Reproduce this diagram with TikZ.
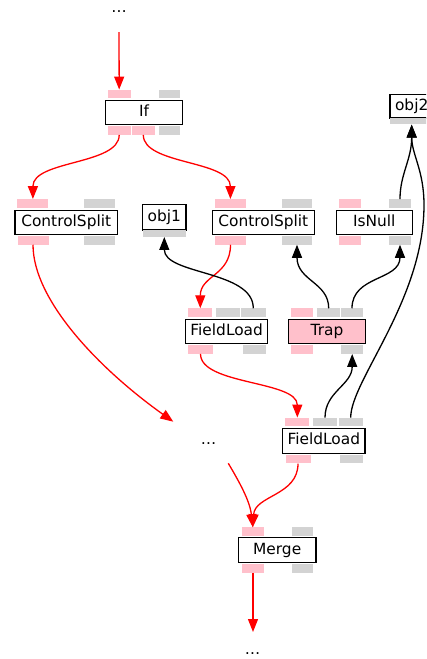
\documentclass[tikz,border=0pt]{standalone}
\usepackage{fontspec}
\setmainfont{DejaVu Sans}
\usetikzlibrary{arrows.meta}
\definecolor{portpink}{HTML}{FFC0CB}
\definecolor{portgray}{HTML}{D3D3D3}
\tikzset{
  opbox/.style={draw=black, line width=1.2pt, fill=white, minimum height=24pt, inner sep=0pt,
    font=\fontsize{15.4pt}{18pt}\selectfont, text height=11.6pt, text depth=3.7pt},
  pport/.style={fill=portpink, draw=none, minimum height=8.5pt, inner sep=0pt},
  gport/.style={fill=portgray, draw=none, minimum height=8.5pt, inner sep=0pt},
  dots/.style={inner sep=0pt, anchor=base, font=\fontsize{15.4pt}{18pt}\selectfont},
  cf/.style={draw=red, line width=1.3pt, -{Triangle[length=13pt,width=10pt]}},
  df/.style={draw=black, line width=1.3pt, -{Triangle[length=13pt,width=10pt]}}
}
\begin{document}
\begin{tikzpicture}[x=1pt,y=-1pt]
\clip (0,0) rectangle (426,659);
\fill[white] (0,0) rectangle (426,659);

% dots
\node[dots] (dtop) at (119,12) {…};
\node[dots] (dmid) at (208.5,444) {…};
\node[dots] (dbot) at (252.5,654.5) {…};
\coordinate (topstart) at (119,32);
\coordinate (midend) at (173.3,421.7);
\coordinate (midstart) at (228.3,463.3);
\coordinate (botend) at (253,632);

% If
\node[opbox, minimum width=77pt] (if) at (144,112.5) {If};
\node[pport, minimum width=23pt] (ifT) at (119.2,94) {};
\node[gport, minimum width=21.3pt] (ifTG) at (169.4,94) {};
\node[pport, minimum width=23pt] (ifB1) at (119.2,130.5) {};
\node[pport, minimum width=22.7pt] (ifB2) at (143.3,130.5) {};
\node[gport, minimum width=21.3pt] (ifBG) at (169.4,130.5) {};

% ControlSplit left
\node[opbox, minimum width=102.3pt] (csa) at (66.2,222.5) {ControlSplit};
\node[pport, minimum width=31pt] (csaT) at (32.9,203.5) {};
\node[gport, minimum width=31pt] (csaTG) at (99.6,203.5) {};
\node[pport, minimum width=31pt] (csaB) at (33,240.3) {};
\node[gport, minimum width=31pt] (csaBG) at (99.9,240.3) {};

% obj1
\node[opbox, minimum width=43.3pt, minimum height=25.6pt] (objA) at (164.3,217.2) {obj1};
\node[gport, minimum width=43.3pt, minimum height=6.5pt] (objAP) at (164.3,233.5) {};

% ControlSplit right
\node[opbox, minimum width=102pt] (csb) at (263.3,222.5) {ControlSplit};
\node[pport, minimum width=31pt] (csbT) at (230.4,203.5) {};
\node[gport, minimum width=30.5pt] (csbTG) at (297,203.5) {};
\node[pport, minimum width=31pt] (csbB) at (230.5,240.3) {};
\node[gport, minimum width=30.5pt] (csbBG) at (297,240.3) {};

% IsNull
\node[opbox, minimum width=76pt] (isn) at (374.3,222.5) {IsNull};
\node[pport, minimum width=22.6pt] (isnT) at (350,203.5) {};
\node[gport, minimum width=21.4pt] (isnTG) at (400,203.5) {};
\node[pport, minimum width=22.6pt] (isnB) at (350,240.3) {};
\node[gport, minimum width=21.4pt] (isnBG) at (400,240.3) {};

% obj2
\node[opbox, minimum width=43.3pt, minimum height=23.6pt] (objB) at (411.7,106.2) {obj2};
\node[gport, minimum width=43.3pt, minimum height=6.4pt] (objBP) at (411.7,121.2) {};

% FieldLoad 1
\node[opbox, minimum width=82pt] (fla) at (226.7,331.3) {FieldLoad};
\node[pport, minimum width=24pt] (flaT) at (200.3,312.7) {};
\node[gport, minimum width=24pt] (flaTG1) at (227.7,312.7) {};
\node[gport, minimum width=24.5pt] (flaTG2) at (253.3,312.7) {};
\node[pport, minimum width=25pt] (flaB) at (200.5,349.5) {};
\node[gport, minimum width=23pt] (flaBG) at (254.2,349.5) {};

% Trap
\node[opbox, fill=portpink, minimum width=77.4pt] (trap) at (327,331.3) {Trap};
\node[pport, minimum width=22.6pt] (trapT) at (302,312.7) {};
\node[gport, minimum width=22.7pt] (trapTG1) at (328.7,312.7) {};
\node[gport, minimum width=21.4pt] (trapTG2) at (352,312.7) {};
\node[pport, minimum width=22pt] (trapB) at (302,349.5) {};
\node[gport, minimum width=21.6pt] (trapBG) at (352.2,349.5) {};

% FieldLoad 2
\node[opbox, minimum width=82.3pt, minimum height=25pt] (flb) at (323.8,440.8) {FieldLoad};
\node[pport, minimum width=24pt] (flbT) at (297.3,422) {};
\node[gport, minimum width=23.4pt] (flbTG1) at (325,422) {};
\node[gport, minimum width=24pt] (flbTG2) at (350.7,422) {};
\node[pport, minimum width=25pt] (flbB) at (298,459.2) {};
\node[gport, minimum width=23pt] (flbBG) at (351.5,459.2) {};

% Merge
\node[opbox, minimum width=77.7pt, minimum height=25pt] (mrg) at (277.2,550.2) {Merge};
\node[pport, minimum width=22.3pt] (mrgT) at (252.8,531.7) {};
\node[gport, minimum width=21.3pt] (mrgTG) at (302.7,531.7) {};
\node[pport, minimum width=22pt] (mrgB) at (253,568.3) {};
\node[gport, minimum width=21pt] (mrgBG) at (302.5,568.3) {};

% control flow edges
\draw[cf] (topstart) -- (ifT.north);
\draw[cf] (ifB1.south) .. controls +(0,30) and +(0,-39) .. (csaT.north);
\draw[cf] (ifB2.south) .. controls +(0,30) and +(0,-39) .. (csbT.north);
\draw[cf] (csaB.south) .. controls +(0,56) and +(-73,-52) .. (midend);
\draw[cf] (csbB.south) .. controls +(0,31) and +(0,-33) .. (flaT.north);
\draw[cf] (flaB.south) .. controls +(0,31) and +(0,-37) .. (flbT.north);
\draw[cf] (midstart) .. controls +(10,17) and +(-3,-27) .. (mrgT.north);
\draw[cf] (flbB.south) .. controls +(0,32) and +(2,-32) .. (mrgT.north);
\draw[cf] (mrgB.south) -- (botend);

% data flow edges
\draw[df] (flaTG2.north) .. controls +(0,-38) and +(0,38) .. (objAP.south);
\draw[df] (trapTG1.north) .. controls +(0,-26) and +(0,36) .. (csbBG.south);
\draw[df] (trapTG2.north) .. controls +(0,-33) and +(0,36) .. (isnBG.south);
\draw[df] (isnTG.north) .. controls +(0,-25) and +(0,35) .. (objBP.south);
\draw[df] (flbTG1.north) .. controls +(0,-26) and +(0,31) .. (trapBG.south);
\draw[df] (flbTG2.north) .. controls +(0,-37) and +(0,95) .. (424,205)
   .. controls +(0,-35) and +(0,30) .. (objBP.south);
\end{tikzpicture}
\end{document}
